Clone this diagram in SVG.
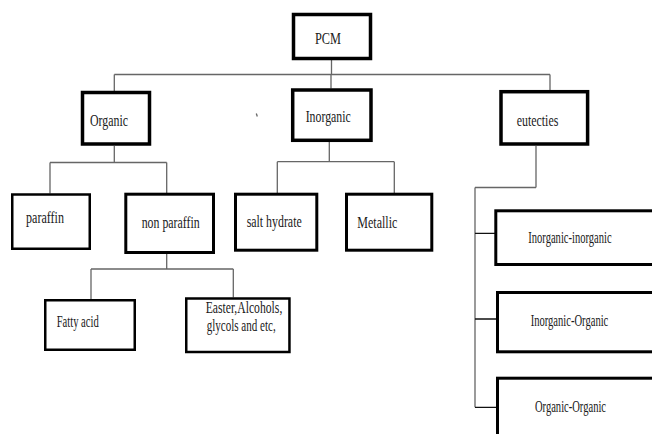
<svg xmlns="http://www.w3.org/2000/svg" width="652" height="434" viewBox="0 0 652 434">
<style>
.box{fill:#fff;stroke:#000}
.t{font-family:"Liberation Serif","Times New Roman",serif;font-size:17px;fill:#1a1a1a}
.s{font-size:16px}
.c{fill:none;stroke:#666;stroke-width:1.3}
.k{fill:none;stroke:#111;stroke-width:1.3}
</style>
<rect width="652" height="434" fill="#fff"/>
<g id="connectors">
<path class="c" d="M331.5 60V74.5M114.3 74.5H550M114.3 74.5V91M331 74.5V88.5M550 74.5V90"/>
<path class="c" d="M114.3 146V162.5M50 162.5H166.7M50 162.5V193.5M166.7 162.5V193"/>
<path class="c" d="M329.3 142V161.7M277.3 161.7H394.3M277.3 161.7V193M394.3 161.7V193"/>
<path class="c" d="M166.7 254V269M91 269H233.3M91 269V299M233.3 269V297.5"/>
<path class="c" d="M536 146V187.5M475 187.5H536M475 187.5V407.3"/>
<path class="k" d="M475 233.3H495M475 319H496.5M475 407.3H496.5"/>
<path class="c" d="M256.3 113.5L257.3 116.5"/>
</g>
<g id="pcm"><rect class="box" x="293.5" y="14.5" width="77" height="44" stroke-width="3.5"/><text class="t" x="315" y="43.5" textLength="26" lengthAdjust="spacingAndGlyphs">PCM</text></g>
<g id="organic"><rect class="box" x="82.5" y="92.5" width="67" height="51.5" stroke-width="3.5"/><text class="t" x="90" y="125.7" textLength="38" lengthAdjust="spacingAndGlyphs">Organic</text></g>
<g id="inorganic"><rect class="box" x="292.7" y="90" width="78.3" height="50.3" stroke-width="3.5"/><text class="t" x="305.7" y="121.7" textLength="45" lengthAdjust="spacingAndGlyphs">Inorganic</text></g>
<g id="eutecties"><rect class="box" x="501" y="91.7" width="86.6" height="52.3" stroke-width="3.5"/><text class="t" x="516.7" y="125.7" textLength="41.6" lengthAdjust="spacingAndGlyphs">eutecties</text></g>
<g id="paraffin"><rect class="box" x="12.25" y="194.5" width="77.5" height="54.25" stroke-width="2.5"/><text class="t" x="26" y="222.7" textLength="38" lengthAdjust="spacingAndGlyphs">paraffin</text></g>
<g id="non-paraffin"><rect class="box" x="125.8" y="194.2" width="87.7" height="58.3" stroke-width="3"/><text class="t" x="141.7" y="228.3" textLength="58" lengthAdjust="spacingAndGlyphs">non paraffin</text></g>
<g id="salt-hydrate"><rect class="box" x="235.5" y="194.2" width="81.3" height="56" stroke-width="3"/><text class="t" x="246.7" y="226.7" textLength="55" lengthAdjust="spacingAndGlyphs">salt hydrate</text></g>
<g id="metallic"><rect class="box" x="346.5" y="194.2" width="85.3" height="56" stroke-width="3"/><text class="t" x="357.3" y="228.3" textLength="40" lengthAdjust="spacingAndGlyphs">Metallic</text></g>
<g id="fatty-acid"><rect class="box" x="45.25" y="300.25" width="89.5" height="49.5" stroke-width="2.5"/><text class="t s" x="56.7" y="326.7" textLength="42" lengthAdjust="spacingAndGlyphs">Fatty acid</text></g>
<g id="easter"><rect class="box" x="186.25" y="298.5" width="103.2" height="53.5" stroke-width="2.5"/><text class="t s" x="205.7" y="313.3" textLength="76.6" lengthAdjust="spacingAndGlyphs">Easter,Alcohols,</text><text class="t s" x="206.7" y="330.7" textLength="69" lengthAdjust="spacingAndGlyphs">glycols and etc,</text></g>
<g id="inorganic-inorganic"><rect class="box" x="495.8" y="210.8" width="170" height="53.7" stroke-width="3"/><text class="t s" x="528.3" y="243.3" textLength="83.3" lengthAdjust="spacingAndGlyphs">Inorganic-inorganic</text></g>
<g id="inorganic-organic"><rect class="box" x="497.5" y="292.5" width="170" height="59.3" stroke-width="3"/><text class="t s" x="530.7" y="325.7" textLength="77.6" lengthAdjust="spacingAndGlyphs">Inorganic-Organic</text></g>
<g id="organic-organic"><rect class="box" x="497.5" y="378.2" width="170" height="80" stroke-width="3"/><text class="t s" x="535" y="412.3" textLength="71" lengthAdjust="spacingAndGlyphs">Organic-Organic</text></g>
</svg>
